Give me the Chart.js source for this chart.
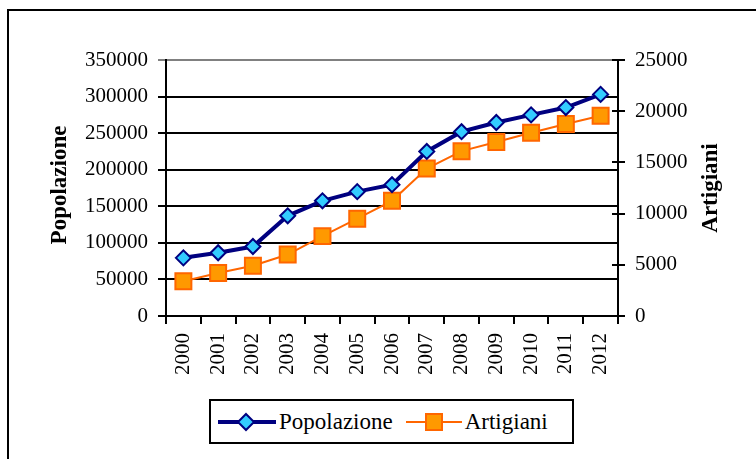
<!DOCTYPE html>
<html>
<head>
<meta charset="utf-8">
<script src="https://cdn.jsdelivr.net/npm/chart.js@4.4.1/dist/chart.umd.min.js"></script>
<style>
    html, body { margin: 0; padding: 0; background: #fff; overflow: hidden; }
    #wrap { position: relative; width: 756px; height: 459px; }
    #frame {
        position: absolute; left: 7px; top: 9px; width: 800px; height: 500px;
        border: 2px solid #000; box-sizing: border-box; pointer-events: none;
    }
    #legend {
        position: absolute; left: 209px; top: 399px; width: 365px; height: 45px;
        border: 2px solid #000; box-sizing: border-box; background: #fff;
        font-family: 'Liberation Serif', 'Times New Roman', serif; font-size: 23px;
        display: flex; align-items: center; padding-left: 6px;
    }
    #legend .item { display: flex; align-items: center; }
    #legend svg { display: block; margin-right: 2px; }
</style>
</head>
<body>
<div id="wrap">
    <canvas id="chart" width="756" height="459"></canvas>
    <div id="frame"></div>
    <div id="legend">
        <div class="item">
            <svg width="60" height="20"><line x1="1" y1="10" x2="59" y2="10" stroke="#000080" stroke-width="4"/><polygon points="29,2 37,10 29,18 21,10" fill="#33CCFF" stroke="#000080" stroke-width="2"/></svg>
            <span>Popolazione</span>
        </div>
        <div class="item" style="margin-left:12px">
            <svg width="58" height="20"><line x1="1" y1="10" x2="57" y2="10" stroke="#FF6600" stroke-width="2"/><rect x="21" y="2" width="16" height="16" fill="#FF9900" stroke="#FF6600" stroke-width="2"/></svg>
            <span>Artigiani</span>
        </div>
    </div>
</div>
<script>
// -------------------- Data --------------------
const years = ['2000', '2001', '2002', '2003', '2004', '2005', '2006',
               '2007', '2008', '2009', '2010', '2011', '2012'];
const popolazione = [79500, 86500, 95000, 137000, 157500, 170000, 179500,
                     225000, 252000, 264500, 275000, 285000, 303000];
const artigiani = [3400, 4200, 4900, 6000, 7800, 9500, 11250,
                   14400, 16100, 17000, 17900, 18750, 19550];
const leftTitle = 'Popolazione';
const rightTitle = 'Artigiani';

const serif = "'Liberation Serif', 'Times New Roman', serif";
const plainNumber = v => String(v); // no thousands separator, like the original

// -------------------- Axis titles + inner ticks on right axis --------------------
const axisDecor = {
    id: 'axisDecor',
    afterDraw(chart) {
        const { ctx, chartArea, scales } = chart;
        const midY = (chartArea.top + chartArea.bottom) / 2;
        ctx.save();
        ctx.fillStyle = '#000';
        ctx.font = 'bold 23px ' + serif;
        ctx.textAlign = 'center';
        ctx.textBaseline = 'middle';

        ctx.translate(scales.y.left + 60, midY - 3);
        ctx.rotate(-Math.PI / 2);
        ctx.fillText(leftTitle, 0, 0);
        ctx.setTransform(1, 0, 0, 1, 0, 0);

        ctx.translate(scales.y1.right - 45, midY);
        ctx.rotate(-Math.PI / 2);
        ctx.fillText(rightTitle, 0, 0);
        ctx.setTransform(1, 0, 0, 1, 0, 0);

        // small tick marks crossing into the plot on the right axis
        ctx.strokeStyle = '#000';
        ctx.lineWidth = 2;
        scales.y1.ticks.forEach((t, i) => {
            const y = Math.round(scales.y1.getPixelForTick(i));
            ctx.beginPath();
            ctx.moveTo(chartArea.right - 6, y);
            ctx.lineTo(chartArea.right, y);
            ctx.stroke();
        });
        ctx.restore();
    }
};

// -------------------- Chart --------------------
new Chart(document.getElementById('chart'), {
    type: 'line',
    data: {
        labels: years,
        datasets: [{
            label: 'Popolazione',
            data: popolazione,
            yAxisID: 'y',
            borderColor: '#000080',
            borderWidth: 4,
            pointStyle: 'rectRot',
            pointRadius: 7.5,
            pointBackgroundColor: '#33CCFF',
            pointBorderColor: '#000080',
            pointBorderWidth: 2,
            tension: 0
        }, {
            label: 'Artigiani',
            data: artigiani,
            yAxisID: 'y1',
            borderColor: '#FF6600',
            borderWidth: 2,
            pointStyle: 'rect',
            pointRadius: 11.3,
            pointBackgroundColor: '#FF9900',
            pointBorderColor: '#FF6600',
            pointBorderWidth: 2,
            tension: 0
        }]
    },
    options: {
        responsive: false,
        animation: false,
        layout: { padding: { top: 60, left: 0, right: 0, bottom: 0 } },
        plugins: {
            legend: { display: false },
            tooltip: { enabled: false }
        },
        scales: {
            x: {
                offset: true,
                grid: { offset: true, drawOnChartArea: false, color: '#000', lineWidth: 2, tickLength: 8 },
                border: { color: '#000', width: 2 },
                ticks: {
                    color: '#000', font: { family: serif, size: 21 },
                    minRotation: 90, maxRotation: 90, padding: 9
                },
                afterFit(scale) { scale.height = 143; }
            },
            y: {
                position: 'left',
                min: 0, max: 350000,
                ticks: {
                    stepSize: 50000, color: '#000', padding: 10,
                    font: { family: serif, size: 21 },
                    callback: plainNumber
                },
                grid: {
                    color: ctx => ctx.tick && ctx.tick.value === 350000 ? '#808080' : '#000',
                    lineWidth: 2,
                    tickLength: 8
                },
                border: { color: '#000', width: 2 },
                afterFit(scale) { scale.width = 166; }
            },
            y1: {
                position: 'right',
                min: 0, max: 25000,
                ticks: {
                    stepSize: 5000, color: '#000', padding: 10,
                    font: { family: serif, size: 21 },
                    callback: plainNumber
                },
                grid: { drawOnChartArea: false, color: '#000', lineWidth: 2, tickLength: 7 },
                border: { color: '#000', width: 2 },
                afterFit(scale) { scale.width = 138; }
            }
        }
    },
    plugins: [axisDecor]
});
</script>
</body>
</html>
